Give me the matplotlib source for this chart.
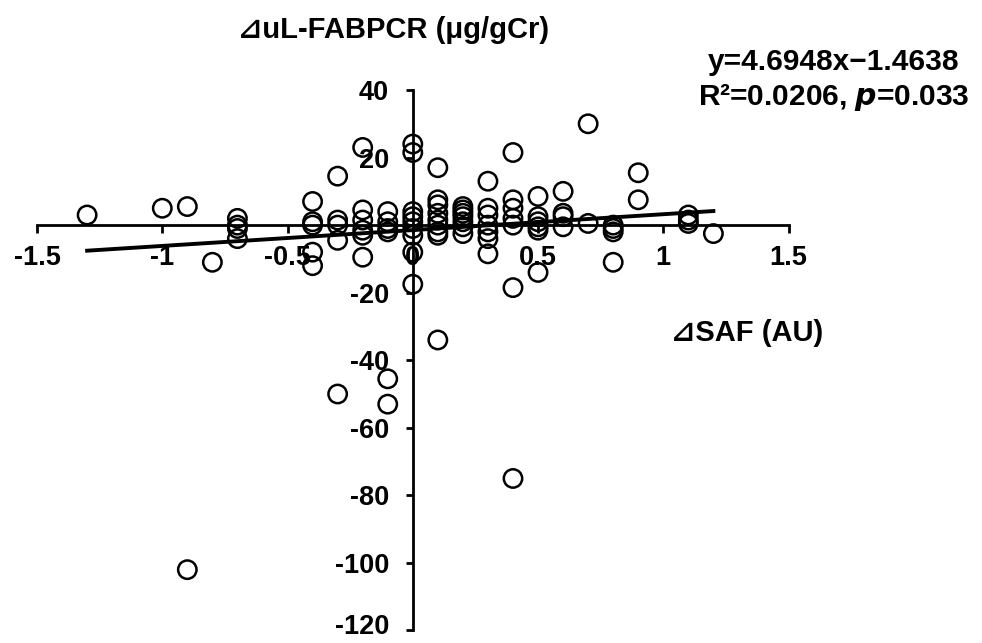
import matplotlib
matplotlib.use('Agg')
import matplotlib.pyplot as plt
import matplotlib.transforms as mtransforms
import numpy as np

plt.rcParams['font.family'] = ['Liberation Sans', 'DejaVu Sans']
plt.rcParams['font.weight'] = 'bold'

# delta SAF (AU) and delta uL-FABP/Cr (ug/gCr)
saf = [-1.3, -1.0, -0.9, -0.9, -0.8,
       -0.7, -0.7, -0.7, -0.7,
       -0.4, -0.4, -0.4, -0.4, -0.4,
       -0.3, -0.3, -0.3, -0.3, -0.3,
       -0.2, -0.2, -0.2, -0.2, -0.2, -0.2,
       -0.1, -0.1, -0.1, -0.1, -0.1, -0.1,
       0, 0, 0, 0, 0, 0, 0, 0, 0,
       0.1, 0.1, 0.1, 0.1, 0.1, 0.1, 0.1, 0.1, 0.1,
       0.2, 0.2, 0.2, 0.2, 0.2, 0.2, 0.2,
       0.3, 0.3, 0.3, 0.3, 0.3, 0.3, 0.3,
       0.4, 0.4, 0.4, 0.4, 0.4, 0.4, 0.4,
       0.5, 0.5, 0.5, 0.5, 0.5, 0.5,
       0.6, 0.6, 0.6, 0.6,
       0.7, 0.7,
       0.8, 0.8, 0.8, 0.8,
       0.9, 0.9,
       1.1, 1.1, 1.1,
       1.2]
fabp = [3, 5, 5.5, -102, -11,
        2, 0, -1, -4,
        7, 1, 0, -8, -12,
        14.5, 1.5, 0, -4.5, -50,
        23, 4.5, 1.5, -1.5, -3, -9.5,
        4, 1, -1, -2, -45.5, -53,
        24, 21.5, 4, 2.5, 1, -1, -3, -8, -17.5,
        17, 7.5, 6, 3.5, 1.5, 0, -2, -3, -34,
        5.5, 4.5, 3.5, 2.5, 1, -0.5, -2.5,
        13, 5, 3, 0, -2, -4, -8.5,
        21.5, 7.5, 5, 2, 0, -18.5, -75,
        8.5, 2.5, 1, -0.5, -1.5, -14,
        10, 3.5, 2.5, -0.5,
        30, 0.5,
        0, -1, -2, -11,
        15.5, 7.5,
        3, 1.5, 0.5,
        -2.5]

slope = 4.6948
intercept = -1.4638

fig = plt.figure(figsize=(9.82, 6.43), dpi=100)
ax = fig.add_axes([0.0377, 0.0195, 0.7653, 0.8405])

ax.scatter(saf, fabp, s=175, facecolors='none', edgecolors='black', linewidths=1.8, zorder=3)

# trend line over the data range
xl = np.array([min(saf), max(saf)])
ax.plot(xl, slope * xl + intercept, color='black', linewidth=2.8, zorder=4)

ax.set_xlim(-1.5, 1.5)
ax.set_ylim(-120, 40)

ax.spines['left'].set_position(('data', 0))
ax.spines['bottom'].set_position(('data', 0))
ax.spines['top'].set_visible(False)
ax.spines['right'].set_visible(False)
for s in ['left', 'bottom']:
    ax.spines[s].set_linewidth(2)

ax.set_xticks([-1.5, -1, -0.5, 0, 0.5, 1, 1.5])
ax.set_xticklabels(['-1.5', '-1', '-0.5', '0', '0.5', '1', '1.5'])
ax.set_yticks([40, 20, 0, -20, -40, -60, -80, -100, -120])
ax.set_yticklabels(['40', '20', '', '-20', '-40', '-60', '-80', '-100', '-120'])
ax.tick_params(axis='x', direction='out', length=6, width=2, pad=8, labelsize=19.5)
ax.tick_params(axis='y', direction='out', length=5, width=2, pad=12, labelsize=19.5)
for lab in ax.get_xticklabels() + ax.get_yticklabels():
    lab.set_fontweight('bold')

# nudge the bottom label up so it stays inside the figure
last = ax.get_yticklabels()[-1]
last.set_transform(last.get_transform() + mtransforms.ScaledTranslation(0, 5 / 72, fig.dpi_scale_trans))

fig.text(394 / 982, 1 - 30 / 643, '⊿uL-FABPCR (μg/gCr)', ha='center', va='center',
         fontsize=21, fontweight='bold')
fig.text(747 / 982, 1 - 333 / 643, '⊿SAF (AU)', ha='center', va='center',
         fontsize=21, fontweight='bold')
fig.text(708 / 982, 1 - 62 / 643, 'y=4.6948x\u22121.4638', ha='left', va='center',
         fontsize=21.5, fontweight='bold')
fig.text(698 / 982, 1 - 97 / 643, 'R²=0.0206, $\\boldsymbol{p}$=0.033', ha='left', va='center',
         fontsize=21.5, fontweight='bold')

plt.savefig('out.png', dpi=100)
